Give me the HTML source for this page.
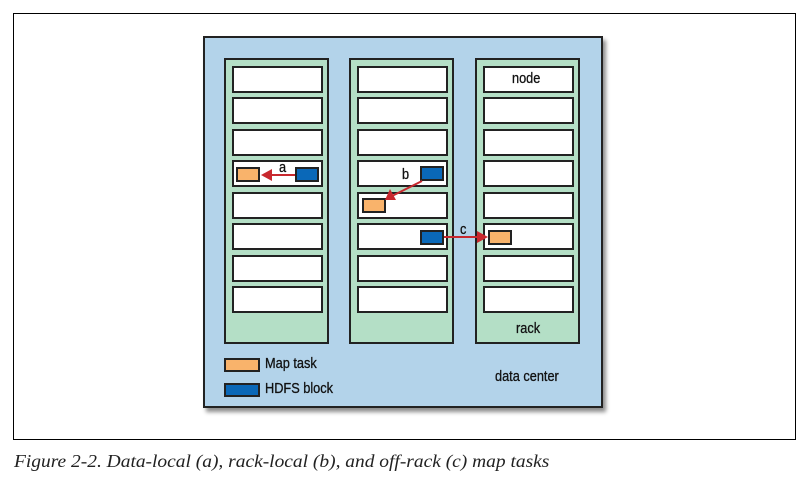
<!DOCTYPE html>
<html><head><style>
body{margin:0;background:#fff;width:811px;height:477px;overflow:hidden;position:relative;font-family:"Liberation Sans",sans-serif}
.a{position:absolute}
.frame{left:13px;top:13px;width:783px;height:427px;border:1px solid #000;box-sizing:border-box}
.dc{left:203px;top:36px;width:400px;height:372px;background:#b3d3ea;border:2px solid #222;box-sizing:border-box;box-shadow:3px 4px 4px rgba(0,0,0,.45)}
.rack{width:105px;height:286px;top:58px;background:#b4dfc6;border:2px solid #222;box-sizing:border-box}
.node{width:91px;height:27px;background:#fff;border:2px solid #222;box-sizing:border-box}
.or{width:24px;height:15px;background:#f9b36b;border:2px solid #222;box-sizing:border-box}
.bl{width:24px;height:15px;background:#0a68b8;border:2px solid #222;box-sizing:border-box}
.t{font-size:15px;color:#111;transform:scaleX(.85);transform-origin:left top;white-space:nowrap;-webkit-text-stroke:0.3px #111}
</style></head><body>
<div class="a frame"></div>
<div class="a dc"></div>
<div class="a rack" style="left:224px"></div>
<div class="a rack" style="left:349px"></div>
<div class="a rack" style="left:475px"></div>
<div id="nodes"></div>
<script>
var ys=[66,97,129,160,192,223,255,286],xs=[232,357,483],h='';
xs.forEach(function(x){ys.forEach(function(y){h+='<div class="a node" style="left:'+x+'px;top:'+y+'px"></div>';});});
document.getElementById('nodes').innerHTML=h;
</script>
<div class="a or" style="left:236px;top:167px"></div>
<div class="a bl" style="left:295px;top:167px"></div>
<div class="a bl" style="left:420px;top:166px"></div>
<div class="a or" style="left:362px;top:198px"></div>
<div class="a bl" style="left:420px;top:230px"></div>
<div class="a or" style="left:488px;top:230px"></div>
<svg class="a" style="left:0;top:0" width="811" height="477">
<g stroke="#c8282e" stroke-width="2" fill="#c8282e">
<line x1="295" y1="175" x2="270" y2="175"/><polygon points="261,175 272,169 272,181" stroke="none"/>
<line x1="422" y1="181" x2="392" y2="196"/><polygon points="385,200 390,189 396,200" stroke="none"/>
<line x1="444" y1="237" x2="478" y2="237"/><polygon points="488,237 477,231 477,243" stroke="none"/>
</g></svg>
<div class="a t" style="left:279px;top:159px">a</div>
<div class="a t" style="left:402px;top:166px">b</div>
<div class="a t" style="left:460px;top:221px">c</div>
<div class="a t" style="left:512px;top:70px">node</div>
<div class="a t" style="left:516px;top:320px">rack</div>
<div class="a or" style="left:224px;top:358px;width:36px;height:14px"></div>
<div class="a bl" style="left:224px;top:383px;width:36px;height:14px"></div>
<div class="a t" style="left:265px;top:355px">Map task</div>
<div class="a t" style="left:265px;top:380px">HDFS block</div>
<div class="a t" style="left:495px;top:368px">data center</div>
<div class="a" style="left:14px;top:451px;font-family:'Liberation Serif',serif;font-style:italic;font-size:18px;color:#222;white-space:nowrap;transform:scaleX(1.08);transform-origin:left top">Figure 2-2. Data-local (a), rack-local (b), and off-rack (c) map tasks</div>
</body></html>
